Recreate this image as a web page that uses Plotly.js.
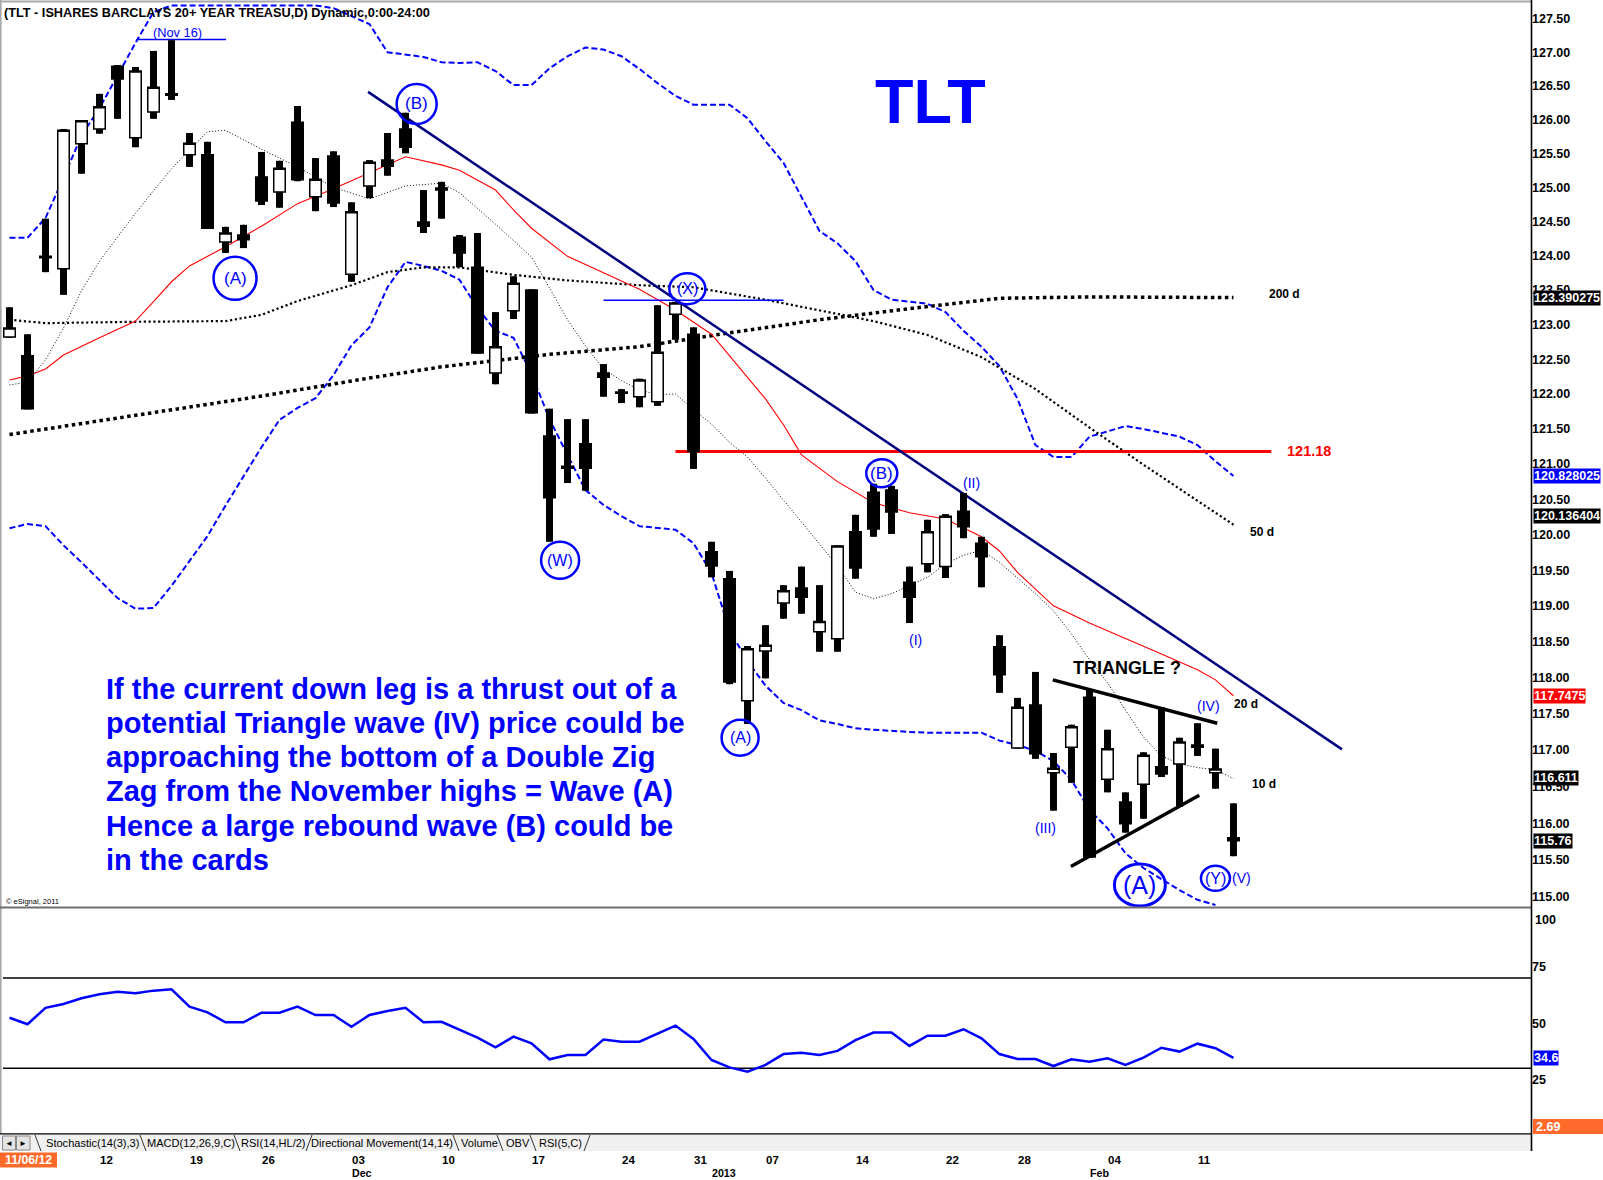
<!DOCTYPE html>
<html><head><meta charset="utf-8">
<script src="https://cdn.plot.ly/plotly-3.0.1.min.js"></script>
<style>html,body{margin:0;padding:0;background:#fff;}#chart{width:1603px;height:1180px;}</style>
</head><body><div id="chart"></div>
<script>
// ---------------- DATA ----------------
const tradeDates = ['2012-11-05','2012-11-06','2012-11-07','2012-11-08','2012-11-09',
'2012-11-12','2012-11-13','2012-11-14','2012-11-15','2012-11-16',
'2012-11-19','2012-11-20','2012-11-21','2012-11-23',
'2012-11-26','2012-11-27','2012-11-28','2012-11-29','2012-11-30',
'2012-12-03','2012-12-04','2012-12-05','2012-12-06','2012-12-07',
'2012-12-10','2012-12-11','2012-12-12','2012-12-13','2012-12-14',
'2012-12-17','2012-12-18','2012-12-19','2012-12-20','2012-12-21',
'2012-12-24','2012-12-26','2012-12-27','2012-12-28',
'2012-12-31','2013-01-02','2013-01-03','2013-01-04',
'2013-01-07','2013-01-08','2013-01-09','2013-01-10','2013-01-11',
'2013-01-14','2013-01-15','2013-01-16','2013-01-17','2013-01-18',
'2013-01-22','2013-01-23','2013-01-24','2013-01-25',
'2013-01-28','2013-01-29','2013-01-30','2013-01-31','2013-02-01',
'2013-02-04','2013-02-05','2013-02-06','2013-02-07','2013-02-08',
'2013-02-11','2013-02-12','2013-02-13'];

const open = [122.82,122.55,123.97,123.81,125.64,125.86,126.79,125.73,126.11,126.38,
125.48,125.48,124.20,124.30,125.15,124.93,125.96,124.86,125.46,123.73,
125.02,125.40,125.86,124.49,124.99,124.27,123.83,122.30,123.20,123.50,
121.40,120.97,121.29,122.30,122.03,121.96,121.89,123.15,122.86,119.76,
119.38,117.68,118.37,119.04,119.25,118.64,118.54,120.04,120.60,120.63,
119.33,119.59,119.55,120.33,119.88,118.43,117.03,117.62,116.69,117.04,
117.73,116.60,116.29,116.53,116.77,116.81,117.07,116.69,115.80];
const high = [123.25,122.86,124.54,125.86,125.98,126.38,126.81,126.78,127.02,127.18,
125.80,125.67,124.42,124.45,125.52,125.39,126.20,125.43,125.53,124.78,
125.40,125.80,126.10,124.96,125.08,124.30,124.33,123.18,123.70,123.51,
121.79,121.64,121.64,122.43,122.07,122.22,123.28,123.33,122.96,119.90,
119.49,118.44,118.73,119.29,119.55,119.29,119.85,120.28,120.72,120.69,
119.55,120.21,120.29,120.59,119.97,118.59,117.72,118.08,116.96,117.35,
117.83,117.28,116.42,116.97,117.59,117.17,117.37,117.02,116.27];
const low = [122.81,121.78,123.76,123.43,125.20,125.79,126.01,125.59,126.01,126.29,
125.30,124.39,124.04,124.11,124.74,124.70,125.09,124.65,124.71,123.62,
124.84,125.17,125.50,124.33,124.54,123.83,122.58,122.14,123.08,121.72,
119.90,120.73,120.62,121.96,121.87,121.81,121.83,122.78,120.93,119.40,
117.91,117.36,117.99,118.82,118.89,118.36,118.36,119.38,119.97,120.01,
118.76,119.47,119.39,119.95,119.26,117.79,117.02,116.88,116.17,116.55,
115.53,116.42,115.87,116.06,116.63,116.22,116.92,116.47,115.55];
const close = [122.95,121.79,123.99,125.84,125.98,126.19,126.60,126.72,126.48,126.36,
125.65,124.40,124.33,124.23,124.80,125.28,125.11,125.12,124.77,124.64,
125.37,125.31,125.59,124.43,124.96,124.04,122.59,122.68,123.60,121.73,
120.52,120.94,120.94,122.24,122.01,122.20,122.60,123.31,121.18,119.56,
117.94,118.40,118.45,119.21,119.12,118.78,119.84,119.53,120.08,120.32,
119.12,120.04,120.26,120.11,119.69,118.04,117.59,116.95,116.75,117.32,
115.54,117.02,115.99,116.93,116.67,117.11,117.04,116.74,115.76];

// Bollinger bands (20,2)
const bbUpper = [124.26,124.26,124.55,125.14,125.76,126.17,126.65,127.14,127.60,127.70,
127.70,127.70,127.70,127.70,127.70,127.70,127.70,127.70,127.66,127.54,
127.42,127.00,126.97,126.93,126.85,126.84,126.85,126.72,126.51,126.51,
126.76,126.94,127.07,127.04,126.94,126.75,126.54,126.35,126.22,126.22,
126.22,126.02,125.68,125.36,124.86,124.36,124.18,123.92,123.50,123.36,
123.33,123.30,123.18,122.91,122.68,122.40,121.93,121.27,121.10,121.10,
121.39,121.47,121.54,121.50,121.44,121.39,121.27,121.04,120.83];
const bbLower = [120.09,120.15,120.12,119.85,119.61,119.36,119.11,118.96,118.97,119.28,
119.63,119.98,120.41,120.82,121.24,121.63,121.80,121.94,122.27,122.70,
122.96,123.54,123.91,123.85,123.78,123.65,123.24,122.91,122.81,122.29,
121.64,121.13,120.63,120.42,120.26,120.12,120.09,120.07,119.88,119.46,
118.66,118.23,117.89,117.65,117.55,117.41,117.36,117.30,117.28,117.26,
117.25,117.24,117.24,117.24,117.24,117.13,117.07,116.99,116.85,116.59,
116.18,115.93,115.59,115.39,115.24,115.09,114.96,114.89];

// moving averages (bar index, value)
const ma200Idx = [0,6,14,20,24,30,35,40,45,50,55,60,68];
const ma200 = [121.42,121.66,121.97,122.23,122.39,122.57,122.68,122.88,123.07,123.23,123.38,123.40,123.39];
const ma50Idx = [0,2,7,12,14,16,19,21,23,25,28,31,35,38,42,45,48,51,54,57,60,63,66,68];
const ma50 = [123.07,123.02,123.04,123.05,123.14,123.34,123.57,123.76,123.83,123.83,123.72,123.64,123.57,123.54,123.36,123.21,123.05,122.85,122.53,122.07,121.52,120.99,120.48,120.14];
const ma20Idx = [0,1,2,3,5,7,8,9,10,12,14,16,18,20,22,24,25,27,28,29,31,33,35,37,38,39,41,42,43,44,46,48,50,52,54,55,56,58,60,62,64,66,67,68];
const ma20 = [122.20,122.26,122.36,122.56,122.81,123.05,123.33,123.62,123.85,124.13,124.43,124.76,124.98,125.21,125.45,125.33,125.25,124.96,124.67,124.40,123.99,123.75,123.51,123.21,123.04,122.86,122.24,121.93,121.56,121.13,120.75,120.45,120.31,120.22,119.97,119.77,119.47,119.00,118.76,118.55,118.33,118.11,117.97,117.75];
const ma10Idx = [0,1,2,3,4,5,6,7,8,9,10,11,12,13,14,16,18,20,22,24,25,27,29,30,31,32,33,34,35,36,37,38,39,40,41,42,43,44,45,46,47,48,49,50,51,52,53,54,55,56,57,58,59,60,61,62,63,64,65,66,67,68];
const ma10 = [122.13,122.17,122.49,122.95,123.49,123.92,124.27,124.62,124.95,125.27,125.55,125.82,125.84,125.70,125.56,125.30,125.00,124.83,125.02,125.06,124.92,124.46,123.98,123.53,123.07,122.69,122.36,122.19,122.06,121.99,122.00,121.78,121.57,121.31,121.10,120.80,120.49,120.18,119.87,119.56,119.19,119.10,119.17,119.28,119.40,119.59,119.71,119.78,119.61,119.39,119.17,118.93,118.61,118.25,117.93,117.55,117.18,116.92,116.81,116.76,116.73,116.61];

// RSI(14,HL/2)
const rsi = [52.4,49.5,56.8,58.5,61.0,62.8,63.9,63.2,64.4,65.0,
57.3,54.8,50.4,50.4,54.6,54.6,57.3,53.6,53.6,48.4,
53.6,55.4,56.8,50.4,50.6,47.0,43.6,39.3,44.0,41.1,
34.0,35.9,35.9,42.7,41.8,41.8,45.5,48.9,43.0,33.7,
30.4,28.5,31.5,36.3,36.9,35.9,37.7,42.5,45.8,45.8,
39.9,44.4,44.4,47.3,43.3,36.3,34.1,34.1,31.0,34.0,
32.9,34.4,31.5,34.7,39.1,37.4,40.9,38.9,34.6];

// drawn studies (bar index, price)
const trendIdx = [19.92, 74.03], trendVal = [126.41, 117.01];
const triUpIdx = [57.96, 67.1], triUpVal = [117.97, 117.37];
const triLoIdx = [58.97, 66.1], triLoVal = [115.41, 116.38];
const resIdx = [37, 70.1], resVal = [121.18, 121.18];
const xLvlIdx = [33, 43], xLvlVal = [123.35, 123.35];
const novIdx = [7.07, 12.03], novVal = [127.19, 127.19];

// axis ticks / labels
const priceTicks = [115,115.5,116,116.5,117,117.5,118,118.5,119,119.5,120,120.5,121,121.5,122,122.5,123,123.5,124,124.5,125,125.5,126,126.5,127,127.5];
const rsiTicks = [75,50,25];
const dayTickDates = ['2012-11-12','2012-11-19','2012-11-26','2012-12-03','2012-12-10','2012-12-17','2012-12-24','2012-12-31','2013-01-07','2013-01-14','2013-01-22','2013-01-28','2013-02-04','2013-02-11'];
const monthTickDates = ['2012-12-03','2013-01-02','2013-02-01'];
const monthTickText = ['Dec','2013','Feb'];
const lastVals = [123.390275,120.828025,120.136404,117.7475,116.611,115.76];
const lastText = ['123.390275','120.828025','120.136404','117.7475','116.611','115.76'];
const lastColors = ['#000000','#0000ff','#000000','#ff0000','#000000','#000000'];
const rsiLast = 34.6, extraLast = '2.69';
const tabs = ['Stochastic(14(3),3)','MACD(12,26,9,C)','RSI(14,HL/2)','Directional Movement(14,14)','Volume','OBV','RSI(5,C)'];
const paraLines = ['If the current down leg is a thrust out of a','potential Triangle wave (IV) price could be','approaching the bottom of a Double Zig','Zag from the November highs = Wave (A)','Hence a large rebound wave (B) could be','in the cards'];

// ---------------- LAYOUT HELPERS ----------------
const W = 1603, H = 1180;
const PX = x => x / W, PY = y => 1 - y / H;
function hasFont(name){const c=document.createElement('canvas').getContext('2d');const s='abcdefghijklmnopqrstuvwxyzABCDEFGHIJ0123456789';c.font='40px monospace';const w0=c.measureText(s).width;c.font='40px "'+name+'", monospace';return Math.abs(c.measureText(s).width-w0)>1;}
const NARROW = hasFont('Liberation Sans Narrow');
const SANS = '"Liberation Sans", Arial, Helvetica, sans-serif';
const COND = NARROW ? '"Liberation Sans Narrow", "Liberation Sans", Arial, sans-serif' : SANS;
const CK = NARROW ? 1 : 0.82;
const xi = tradeDates.map((d, i) => i);
const L0 = Math.log10(115), KPX = 19593, Y0 = 896.8, BARPX = 18;
const priceRange = [L0 + (Y0 - 907) / KPX, L0 + (Y0 - 4) / KPX];
const rsiRange = [1.34, 101.0];
const BLUE = '#0000ff';

// wick segments outside the bodies
const wickX = [], wickY = [];
for (let i = 0; i < open.length; i++) {
  const top = Math.max(open[i], close[i]), bot = Math.min(open[i], close[i]);
  wickX.push(i, i, null, i, i, null);
  wickY.push(low[i], bot, null, top, high[i], null);
}

const line = (x, y, color, width, dash, yaxis) => ({type:'scatter', mode:'lines', x, y, xaxis:'x', yaxis: yaxis || 'y', hoverinfo:'skip', line:{color, width, dash: dash || 'solid'}});

const traces = [
  line(xi, bbUpper, BLUE, 2, '6px,3px'),
  line(xi.slice(0, bbLower.length), bbLower, BLUE, 2, '6px,3px'),
  line(ma200Idx, ma200, '#000', 3.5, '3.5px,3.5px'),
  line(ma50Idx, ma50, '#000', 2.2, '2.2px,2.6px'),
  line(ma20Idx, ma20, '#ff0000', 1.1),
  line(ma10Idx, ma10, '#000', 1, '1px,2px'),
  line(resIdx, resVal, '#ff0000', 3),
  line(xLvlIdx, xLvlVal, BLUE, 1.5),
  line(novIdx, novVal, BLUE, 1.5),
  line(trendIdx, trendVal, '#000080', 2.5),
  line(triUpIdx, triUpVal, '#000', 3.5),
  line(triLoIdx, triLoVal, '#000', 3.5),
  {type:'candlestick', x:xi, open, high, low, close, xaxis:'x', yaxis:'y3', hoverinfo:'skip', whiskerwidth:0,
   line:{width:1.5},
   increasing:{line:{color:'#000', width:1.5}, fillcolor:'#ffffff'},
   decreasing:{line:{color:'#000', width:1.5}, fillcolor:'#000000'}},
  {type:'scatter', mode:'lines', x:wickX, y:wickY, xaxis:'x', yaxis:'y3', hoverinfo:'skip', connectgaps:false, line:{color:'#000', width:7}},
  line(xi, rsi, BLUE, 2.5, 'solid', 'y2')
];

// ---------------- ANNOTATIONS ----------------
const A = [];
const ann = o => A.push(Object.assign({showarrow:false, xref:'paper', yref:'paper', xanchor:'center', yanchor:'middle'}, o));
const f = (size, color, weight, family) => ({family: family || SANS, size, color: color || '#000', weight: weight || 'normal'});

ann({x:PX(2), y:PY(13), xanchor:'left', text:'(TLT - ISHARES BARCLAYS 20+ YEAR TREASU,D) Dynamic,0:00-24:00', font:f(15.5*CK, '#000', 'bold', COND)});
ann({x:PX(930), y:PY(101), text:'TLT', font:f(63, BLUE, 'bold')});
paraLines.forEach((t, k) => ann({x:PX(103.5), y:PY(688.8 + 34.2*k), xanchor:'left', text:t, font:f(29, BLUE, 'bold')}));
ann({x:PX(4), y:PY(901), xanchor:'left', text:'© eSignal, 2011', font:f(7.5, '#000')});

// wave labels (data anchored); circle size in pixels
const waves = [
  {t:'(A)', i:12.53, p:123.67, fs:17, w:43, h:43},
  {t:'(B)', i:22.62, p:126.23, fs:17, w:40, h:40},
  {t:'(X)', i:37.66, p:123.52, fs:16, w:36, h:31},
  {t:'(W)', i:30.59, p:119.64, fs:16, w:38, h:37},
  {t:'(B)', i:48.46, p:120.87, fs:17, w:31, h:28},
  {t:'(A)', i:40.59, p:117.17, fs:16, w:37, h:36},
  {t:'(A)', i:62.8, p:115.16, fs:25, w:51, h:42, lw:3},
  {t:'(Y)', i:67.0, p:115.25, fs:16, w:29, h:25},
  {t:'(I)', i:50.36, p:118.53, fs:14},
  {t:'(II)', i:53.46, p:120.73, fs:14},
  {t:'(III)', i:57.58, p:115.93, fs:14},
  {t:'(IV)', i:66.6, p:117.61, fs:14},
  {t:'(V)', i:68.47, p:115.25, fs:14}
];
const shapes = [];
waves.forEach(wv => {
  ann({xref:'x', yref:'y', x:wv.i, y:Math.log10(wv.p), text:wv.t, font:f(wv.fs, BLUE)});
  if (wv.w) {
    const dx = wv.w / 2 / BARPX, dl = wv.h / 2 / KPX;
    shapes.push({type:'circle', xref:'x', yref:'y', x0:wv.i - dx, x1:wv.i + dx,
      y0:wv.p * Math.pow(10, -dl), y1:wv.p * Math.pow(10, dl), line:{color:BLUE, width:wv.lw || 2.5}, layer:'above'});
  }
});
const sideLabels = [
  {t:'200 d', i:70.86, p:123.44}, {t:'50 d', i:69.61, p:120.04},
  {t:'20 d', i:68.7, p:117.64}, {t:'10 d', i:69.67, p:116.53}
];
sideLabels.forEach(s => ann({xref:'x', yref:'y', x:s.i, y:Math.log10(s.p), text:s.t, font:f(12, '#000', 'bold')}));
ann({xref:'x', yref:'y', x:72.19, y:Math.log10(resVal[0]), text:resVal[0].toFixed(2), font:f(14.5, '#ff0000', 'bold')});
ann({xref:'x', yref:'y', x:62.07, y:Math.log10(118.13), text:'TRIANGLE ?', font:f(18, '#000', 'bold')});
ann({xref:'x', yref:'y', x:9.34, y:Math.log10(127.29), text:'(Nov 16)', font:f(12.8, BLUE)});

// last value boxes on the right axis
lastVals.forEach((v, k) => ann({x:PX(1532.5), xanchor:'left', yref:'y', y:Math.log10(v), yshift: k === 2 ? 9 : 0,
  text:lastText[k], bgcolor:lastColors[k], borderpad:0, font:f(12.5, '#fff', 'bold')}));
ann({x:PX(1532.5), xanchor:'left', yref:'y2', y:rsiLast, text:String(rsiLast), bgcolor:BLUE, borderpad:0, font:f(12.5, '#fff', 'bold')});
ann({x:PX(1533), xanchor:'left', y:PY(919.8), text:'100', font:f(12.5, '#000', 'bold')});
ann({x:PX(1534), xanchor:'left', y:PY(1126.5), text:extraLast, font:f(12.5, '#fff', 'bold')});

// date labels
dayTickDates.forEach(d => ann({xref:'x', x:tradeDates.indexOf(d), xanchor:'left', xshift:-1.5, y:PY(1160), text:d.slice(8), font:f(14*CK, '#000', 'bold', COND)}));
monthTickDates.forEach((d, k) => ann({xref:'x', x:tradeDates.indexOf(d), xanchor:'left', xshift:-1.5, y:PY(1173), text:monthTickText[k], font:f(13*CK, '#000', 'bold', COND)}));
ann({x:PX(28.5), y:PY(1160), text:'11/06/12', font:f(15*CK, '#fff', 'bold', COND)});

// tab bar
const tabCenters = [92, 191, 273.7, 382, 479, 518, 560];
tabs.forEach((t, k) => ann({x:PX(tabCenters[k]), y:PY(1143), text:t, font:f(13.5*CK, '#000', 'normal', COND)}));
ann({x:PX(9), y:PY(1143), text:'◄', font:f(8, '#000')});
ann({x:PX(23), y:PY(1143), text:'►', font:f(8, '#000')});

// ---------------- SHAPES ----------------
const P = (x0, y0, x1, y1, color, width) => ({type:'line', xref:'paper', yref:'paper', x0:PX(x0), y0:PY(y0), x1:PX(x1), y1:PY(y1), line:{color, width}});
shapes.push({type:'line', xref:'paper', yref:'y2', x0:PX(3), x1:PX(1531), y0:70, y1:70, line:{color:'#000', width:1.5}, layer:'below'});
shapes.push({type:'line', xref:'paper', yref:'y2', x0:PX(3), x1:PX(1531), y0:30, y1:30, line:{color:'#000', width:1.5}, layer:'below'});
shapes.push(P(0, 1.5, 1531, 1.5, '#a8a8a8', 2));
shapes.push(P(0.8, 0, 0.8, 1151, '#a8a8a8', 1.6));
shapes.push(P(0, 907.5, 1531, 907.5, '#6e6e6e', 2));
shapes.push({type:'rect', xref:'paper', yref:'paper', x0:PX(0), x1:PX(1531), y0:PY(1151), y1:PY(1134), fillcolor:'#f0f0f0', line:{width:0}});
shapes.push(P(0, 1133.8, 1531, 1133.8, '#000', 1.3));
shapes.push({type:'rect', xref:'paper', yref:'paper', x0:PX(2.5), x1:PX(15.5), y0:PY(1150), y1:PY(1136), fillcolor:'#e4e4e4', line:{color:'#8a8a8a', width:1}});
shapes.push({type:'rect', xref:'paper', yref:'paper', x0:PX(16.5), x1:PX(30), y0:PY(1150), y1:PY(1136), fillcolor:'#e4e4e4', line:{color:'#8a8a8a', width:1}});
[[38,1],[143,1],[237,1],[309,-1],[456,1],[500,1],[533,1],[587,-1]].forEach(([x, d]) => shapes.push(P(x - 3*d, 1135, x + 3*d, 1151, '#333', 1)));
shapes.push(P(1531.5, 0, 1531.5, 1151, '#000', 1.6));
shapes.push({type:'rect', xref:'paper', yref:'paper', x0:PX(1533), x1:1, y0:PY(1134), y1:PY(1119), fillcolor:'#ff6a2b', line:{width:0}, layer:'below'});
shapes.push({type:'rect', xref:'paper', yref:'paper', x0:0, x1:PX(57), y0:PY(1167.5), y1:PY(1152.5), fillcolor:'#ff6a2b', line:{width:0}, layer:'below'});

const tickFont = f(12.5, '#000', 'bold');
const layout = {
  width:W, height:H, margin:{l:0, r:0, t:0, b:0, pad:0},
  paper_bgcolor:'#ffffff', plot_bgcolor:'#ffffff', showlegend:false, hovermode:false,
  boxgap:0.36, boxgroupgap:0,
  xaxis:{domain:[PX(2), PX(1531)], range:[-0.4167, 84.53], anchor:'y2', showticklabels:false, showgrid:false, zeroline:false, showline:false, ticks:'', rangeslider:{visible:false}, fixedrange:true, automargin:false},
  yaxis:{domain:[PY(907), PY(4)], type:'log', range:priceRange, side:'right', anchor:'x', tickvals:priceTicks, ticktext:priceTicks.map(v => v.toFixed(2)),
         tickfont:tickFont, ticks:'', showgrid:false, zeroline:false, showline:false, fixedrange:true, automargin:false},
  yaxis3:{overlaying:'y', type:'log', range:priceRange, visible:false, fixedrange:true, side:'right', anchor:'x'},
  yaxis2:{domain:[PY(1133), PY(908)], range:rsiRange, side:'right', anchor:'x', tickvals:rsiTicks, ticktext:rsiTicks.map(String),
          tickfont:tickFont, ticks:'', showgrid:false, zeroline:false, showline:false, fixedrange:true, automargin:false},
  annotations:A, shapes:shapes
};
Plotly.newPlot('chart', traces, layout, {staticPlot:true, displayModeBar:false});
</script></body></html>
